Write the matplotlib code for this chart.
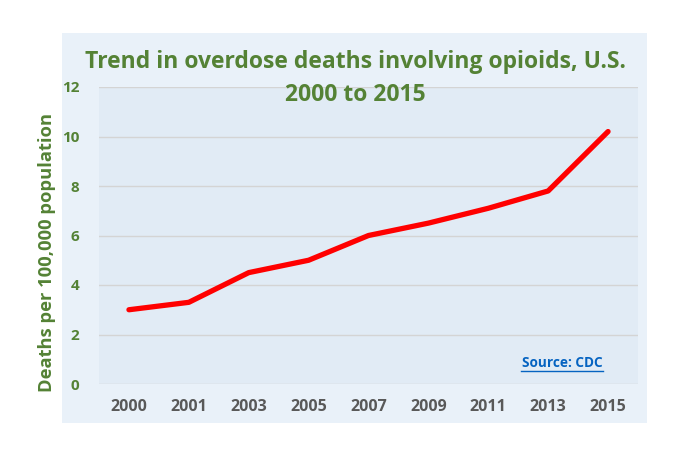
import matplotlib
matplotlib.use("Agg")
import matplotlib.pyplot as plt

years = ["2000", "2001", "2003", "2005", "2007", "2009", "2011", "2013", "2015"]
rates = [3.0, 3.3, 4.5, 5.0, 6.0, 6.5, 7.1, 7.8, 10.2]
yticks = [0, 2, 4, 6, 8, 10, 12]

GREEN = "#548235"
GRAY = "#595959"
W, H = 684, 455

plt.rcParams["font.family"] = ["Open Sans", "DejaVu Sans"]
fig = plt.figure(figsize=(W / 100, H / 100), dpi=100, facecolor="white")

# outer chart area as a background axes
bg = fig.add_axes([62 / W, 1 - 423 / H, (647 - 62) / W, (423 - 33) / H], zorder=0)
bg.set_facecolor("#E9F1F9")
bg.set_xticks([]); bg.set_yticks([])
for sp in bg.spines.values():
    sp.set_visible(False)

ax = fig.add_axes([99 / W, 1 - 384 / H, (638 - 99) / W, (384 - 87) / H], zorder=1)
ax.set_facecolor("#E1EBF5")
x = range(len(years))
ax.plot(x, rates, color="#FF0000", linewidth=3.8, solid_capstyle="round",
        solid_joinstyle="round", zorder=3)
ax.set_xlim(-0.5, len(years) - 0.5)
ax.set_ylim(0, 12)
ax.set_yticks(yticks)
ax.set_xticks(list(x))
ax.set_xticklabels(years)
ax.grid(axis="y", color="#D4D4D4", linewidth=1.0)
ax.set_axisbelow(True)
for sp in ax.spines.values():
    sp.set_visible(False)
ax.tick_params(length=0)
ax.tick_params(axis="y", pad=14, labelsize=11, labelcolor=GREEN)
ax.tick_params(axis="x", pad=11, labelsize=11.5, labelcolor=GRAY)
for lab in ax.get_xticklabels() + ax.get_yticklabels():
    lab.set_fontweight("bold")

fig.text(47 / W, 1 - 252 / H, "Deaths per 100,000 population", rotation=90,
         ha="center", va="center", color=GREEN, fontsize=13.2, fontweight="bold",
         zorder=5)

fig.text(355 / W, 1 - 62 / H, "Trend in overdose deaths involving opioids, U.S.",
         ha="center", va="center", color=GREEN, fontsize=16.5, fontweight="bold",
         zorder=5)
fig.text(355 / W, 1 - 95 / H, "2000 to 2015",
         ha="center", va="center", color=GREEN, fontsize=16.5, fontweight="bold",
         zorder=5)

ax.text(0.859, 0.07, "Source: CDC", transform=ax.transAxes, ha="center",
        va="center", color="#0563C1", fontsize=9.8, fontweight="bold")
ax.plot([0.783, 0.935], [0.044, 0.044], transform=ax.transAxes, color="#0563C1",
        linewidth=1.0, zorder=3, clip_on=False)

fig.savefig("out.png", dpi=100, facecolor="white")
